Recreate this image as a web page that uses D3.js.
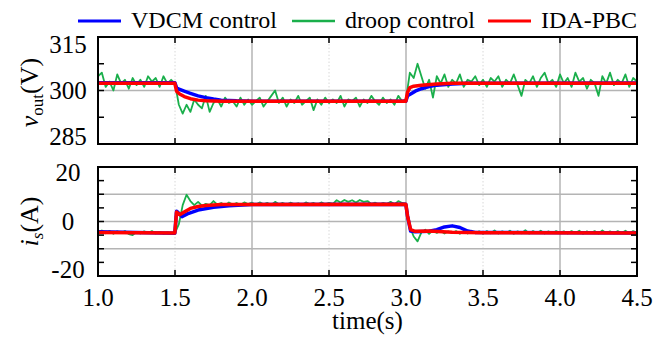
<!doctype html>
<html>
<head>
<meta charset="utf-8">
<script src="https://d3js.org/d3.v7.min.js"></script>
</head>
<body style="margin:0; font-family:'Liberation Serif', serif">
<svg id="chart" width="656" height="339" style="font-family:'Liberation Serif', serif"></svg>
<script>
// ---- data ----
var seriesNames = ["VDCM control", "droop control", "IDA-PBC"];
var xTicks = [1.0, 1.5, 2.0, 2.5, 3.0, 3.5, 4.0, 4.5];
var voutTickLabels = [315, 300, 285];
var isTickLabels = [20, 0, -20];

// green (droop) sampled every 0.025 s from 1.0 to 4.5
var droopTime = d3.range(141).map(function(i) { return 1.0 + i * 0.025; });

var voutVdcm = [[1.0,302.2],[1.499,302.2],[1.51,300.8],[1.53,300.3],[1.56,299.8],[1.6,299.2],[1.65,298.5],[1.7,298],[1.75,297.6],[1.8,297.3],[1.9,297.1],[2.0,297],[2.999,297],[3.01,298.5],[3.03,299],[3.06,299.8],[3.1,300.5],[3.15,301.1],[3.2,301.5],[3.3,301.8],[3.4,302],[4.5,302.1]];
var voutIda = [[1.0,302],[1.499,302],[1.51,299.8],[1.53,299],[1.56,298.3],[1.6,297.7],[1.65,297.3],[1.7,297.1],[1.8,297],[2.999,297],[3.01,299.5],[3.025,300.8],[3.05,301.2],[3.1,301.5],[3.2,301.8],[3.3,302],[4.5,302]];
var voutDroop = [
  304,305,301,302.5,300,304.5,302,303,300.5,303.5,301.5,303,301,304,302.5,303.5,301,304,302,303,
  302,
  296,293.5,296,294,297.5,296,295,298.5,294,296.5,297.5,295.5,298,296.5,297,295.5,298,296,297.5,296,
  297,298,295.5,297,298.5,300,296.5,298,295.5,297.5,296.5,298.5,296,297,298,294.5,297.5,296,298,296.5,
  297.5,296.5,298.5,295.5,297.5,297,298,295.5,297.5,296.5,298.5,297,296,298,296.5,297.5,296,298.5,297,297.5,
  305,303.5,307.5,304,300.5,303,298,304,302,304.5,301,303,302,304.5,301,303,302.5,304,301.5,303,
  301,303.5,302.5,304,301,303,302,304.5,301.5,298.5,303,302,304,301,303.5,305,302,303,301,304.5,
  302,303.5,301,305,302.5,303.5,300.5,303,302,298.5,304,302,305,301.5,303,302,304.5,301,303.5,302.5
];

var isVdcm = [[1.0,-3.8],[1.499,-4.3],[1.51,3.8],[1.525,3],[1.545,1.8],[1.58,2.8],[1.65,4.2],[1.75,5.2],[1.85,5.8],[2.0,6.2],[2.999,6.3],[3.01,2],[3.03,-3.5],[3.06,-3.8],[3.15,-3.6],[3.2,-3],[3.25,-2],[3.3,-1.6],[3.35,-2.2],[3.4,-3.5],[3.45,-4],[4.5,-4.2]];
var isIda = [[1.0,-4],[1.499,-4.2],[1.51,3.5],[1.53,2.5],[1.56,3.5],[1.6,4.8],[1.65,5.5],[1.7,5.9],[1.8,6.2],[2.999,6.3],[3.01,2],[3.03,-3],[3.06,-3.6],[3.15,-3.5],[3.3,-3.9],[3.5,-4.1],[4.5,-4.2]];
var isDroop = [
  -4,-3.3,-4.3,-3.5,-4.5,-3.6,-4.2,-3.5,-4.6,-5,-3.8,-4.4,-3.6,-4.2,-3.5,-4.4,-3.8,-4.5,-4,-4.3,
  -4.2,
  -1,6,9.8,7.5,6,7.2,5.8,6.5,6,7.5,6.2,6.8,6,7,6.2,6.8,6.1,7,6.4,6.9,
  6.2,7,6.3,6.8,6.1,7.2,6.3,6.8,6.2,6.9,6.3,6.7,6.1,7,6.4,6.8,6.2,7,6.3,6.8,
  6.5,7.8,7,7.9,7.2,7.8,7,7.9,7.2,7.5,6.4,6.9,6.2,6.8,6.4,7.2,6.3,7.5,6.8,6.5,
  -2,-5.5,-7.3,-4,-3,-4.5,-3.2,-4.2,-3.5,-4.4,-3.6,-4.3,-3.5,-4.5,-3.7,-4.4,-3.4,-4.3,-3.6,-4.5,
  -3.5,-4.3,-3.3,-4.4,-3.6,-4.2,-3.4,-4.5,-3.6,-4.3,-3.2,-4.4,-3.5,-4.2,-3.4,-4.4,-3.6,-4.3,-3.5,-4.2,
  -3.6,-4.4,-3.5,-4.2,-3.4,-4.5,-3.6,-4.3,-3.5,-4.4,-3.3,-4.2,-3.6,-4.4,-3.5,-4.2,-3.4,-4.3,-3.5,-4.1
];

var colors = { vdcm: "#0000ff", droop: "#1aaf4b", ida: "#ff0000" };

// ---- layout ----
var svg = d3.select("#chart");
var left = 98, right = 637;

var x = d3.scaleLinear().domain([1.0, 4.5]).range([left, right]);

var panels = [
  { top: 37, bottom: 144, domain: [285, 315], minor: [292.5, 300, 307.5], grid: [300],
    labels: voutTickLabels, labelShift: { 315: 8, 285: -7 },
    vdcm: voutVdcm, ida: voutIda, droop: voutDroop },
  { top: 167, bottom: 276, domain: [-20, 20], minor: [-15, -10, -5, 0, 5, 10, 15], grid: [-10, 0, 10],
    labels: isTickLabels, labelShift: { 20: 6, "-20": -6 },
    vdcm: isVdcm, ida: isIda, droop: isDroop }
];

// text helper: every label gets the serif face set inline
function label(parent, size) {
  return parent.append("text")
    .attr("font-family", "Liberation Serif")
    .attr("font-size", size)
    .style("font-family", "'Liberation Serif', serif");
}

panels.forEach(function(p) {
  var y = d3.scaleLinear().domain(p.domain).range([p.bottom, p.top]);
  var g = svg.append("g");

  // gridlines: solid at whole seconds, dotted at half seconds
  xTicks.slice(1, -1).forEach(function(t) {
    var whole = Math.abs(t - Math.round(t)) < 1e-6;
    g.append("line")
      .attr("x1", x(t)).attr("x2", x(t))
      .attr("y1", p.top).attr("y2", p.bottom)
      .attr("stroke", whole ? "#b4b4b4" : "#d8d8d8")
      .attr("stroke-width", whole ? 1.5 : 1)
      .attr("stroke-dasharray", whole ? null : "1.5,2");
  });
  p.grid.forEach(function(v) {
    g.append("line")
      .attr("x1", left).attr("x2", right)
      .attr("y1", y(v)).attr("y2", y(v))
      .attr("stroke", "#b4b4b4").attr("stroke-width", 1.5);
  });

  var clip = "clip" + p.top;
  svg.append("clipPath").attr("id", clip).append("rect")
    .attr("x", left).attr("y", p.top).attr("width", right - left).attr("height", p.bottom - p.top);

  var line = d3.line().x(function(d) { return x(d[0]); }).y(function(d) { return y(d[1]); });
  var droopPts = droopTime.map(function(t, i) { return [t, p.droop[i]]; });
  var lines = g.append("g").attr("clip-path", "url(#" + clip + ")");
  lines.append("path").attr("d", line(droopPts)).attr("fill", "none")
    .attr("stroke", colors.droop).attr("stroke-width", 1.8).attr("stroke-linejoin", "round");
  lines.append("path").attr("d", line(p.vdcm)).attr("fill", "none")
    .attr("stroke", colors.vdcm).attr("stroke-width", 3.5).attr("stroke-linejoin", "round");
  lines.append("path").attr("d", line(p.ida)).attr("fill", "none")
    .attr("stroke", colors.ida).attr("stroke-width", 3.5).attr("stroke-linejoin", "round");

  // inward ticks on all four sides
  var tl = 6;
  xTicks.slice(1, -1).forEach(function(t) {
    g.append("line").attr("x1", x(t)).attr("x2", x(t)).attr("y1", p.bottom).attr("y2", p.bottom - tl)
      .attr("stroke", "#000").attr("stroke-width", 1.5);
    g.append("line").attr("x1", x(t)).attr("x2", x(t)).attr("y1", p.top).attr("y2", p.top + tl)
      .attr("stroke", "#000").attr("stroke-width", 1.5);
  });
  p.minor.forEach(function(v) {
    g.append("line").attr("x1", left).attr("x2", left + tl).attr("y1", y(v)).attr("y2", y(v))
      .attr("stroke", "#000").attr("stroke-width", 1.5);
    g.append("line").attr("x1", right).attr("x2", right - tl).attr("y1", y(v)).attr("y2", y(v))
      .attr("stroke", "#000").attr("stroke-width", 1.5);
  });

  // frame
  g.append("rect").attr("x", left).attr("y", p.top)
    .attr("width", right - left).attr("height", p.bottom - p.top)
    .attr("fill", "none").attr("stroke", "#000").attr("stroke-width", 2);

  // y tick labels
  p.labels.forEach(function(v) {
    label(g, 25)
      .attr("x", 68).attr("y", y(v) + (p.labelShift[v] || 0) + 8)
      .attr("text-anchor", "middle")
      .text(v);
  });
});

// x tick labels under bottom panel
xTicks.forEach(function(t) {
  label(svg, 25)
    .attr("x", x(t)).attr("y", 306)
    .attr("text-anchor", "middle")
    .text(t.toFixed(1));
});
label(svg, 25)
  .attr("x", (left + right) / 2).attr("y", 329)
  .attr("text-anchor", "middle")
  .text("time(s)");

// y axis titles
var t1 = label(svg, 26)
  .attr("transform", "translate(38," + ((panels[0].top + panels[0].bottom) / 2 + 2) + ") rotate(-90)")
  .attr("text-anchor", "middle");
t1.append("tspan").attr("font-style", "italic").text("v");
t1.append("tspan").attr("font-size", 17).attr("dy", 5).text("out");
t1.append("tspan").attr("dy", -5).text("(V)");

var t2 = label(svg, 26)
  .attr("transform", "translate(38," + (panels[1].top + panels[1].bottom) / 2 + ") rotate(-90)")
  .attr("text-anchor", "middle");
t2.append("tspan").attr("font-style", "italic").text("i");
t2.append("tspan").attr("font-size", 17).attr("font-style", "italic").attr("dy", 5).text("s");
t2.append("tspan").attr("dy", -5).text("(A)");

// legend
var legend = [
  { name: seriesNames[0], color: colors.vdcm, x0: 78, w: 3 },
  { name: seriesNames[1], color: colors.droop, x0: 292, w: 2.5 },
  { name: seriesNames[2], color: colors.ida, x0: 488, w: 3 }
];
legend.forEach(function(d) {
  svg.append("line").attr("x1", d.x0).attr("x2", d.x0 + 43)
    .attr("y1", 21).attr("y2", 21)
    .attr("stroke", d.color).attr("stroke-width", d.w);
  label(svg, 24).attr("x", d.x0 + 53).attr("y", 28).text(d.name);
});
</script>
</body>
</html>
